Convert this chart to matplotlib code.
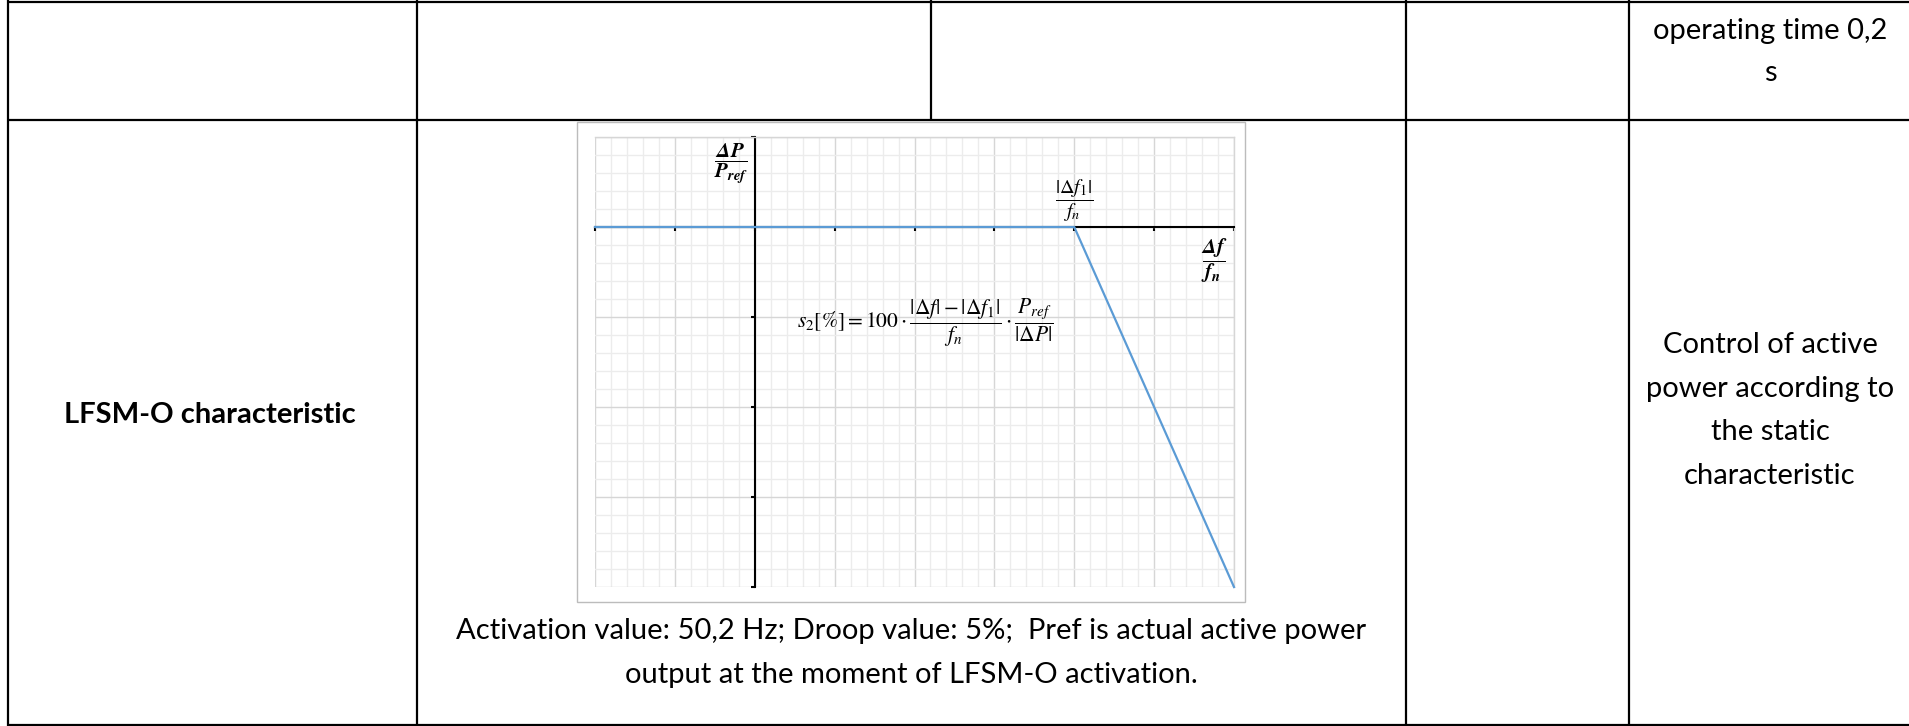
import numpy as np
import matplotlib
matplotlib.use("Agg")
import matplotlib.pyplot as plt
from matplotlib.patches import Rectangle

plt.rcParams['font.family'] = ['Lato', 'DejaVu Sans']
plt.rcParams['mathtext.fontset'] = 'stix'

# LFSM-O static characteristic: dP/Pref against df/fn (chart units)
curve_x = [-2, 4, 6]
curve_y = [0, 0, -4]
x_range = (-2, 6)
y_range = (-4, 1)

# table texts
top_right_lines = ["operating time 0,2", "s"]
row_title = "LFSM-O characteristic"
right_lines = ["Control of active", "power according to", "the static", "characteristic"]
caption_lines = ["Activation value: 50,2 Hz; Droop value: 5%;  Pref is actual active power",
                 "output at the moment of LFSM-O activation."]
ylabel_txt = r'$\dfrac{\mathbfit{\Delta P}}{\mathbfit{P}_{\mathbfit{ref}}}$'
knee_txt = r'$\dfrac{|\Delta f_1|}{f_n}$'
xlabel_txt = r'$\dfrac{\mathbfit{\Delta f}}{\mathbfit{f}_{\mathbfit{n}}}$'
droop_txt = r'$s_2[\%] = 100\cdot\dfrac{|\Delta f| - |\Delta f_1|}{f_n}\cdot\dfrac{P_{ref}}{|\Delta P|}$'

W, H = 1909, 726
fig = plt.figure(figsize=(W / 100, H / 100), dpi=100)

# page layer in pixel coordinates for the table
page = fig.add_axes([0, 0, 1, 1])
page.set_xlim(0, W)
page.set_ylim(H, 0)
page.axis('off')

lw_tbl = 1.6
for y in [1.5, 120, 724.5]:
    page.plot([8, W], [y, y], color='black', lw=lw_tbl, solid_capstyle='butt')
for x in [8, 417, 1406, 1629]:
    page.plot([x, x], [0, H], color='black', lw=lw_tbl, solid_capstyle='butt')
page.plot([931, 931], [0, 120], color='black', lw=lw_tbl, solid_capstyle='butt')

# frame of the embedded chart picture
page.add_patch(Rectangle((577, 121.5), 668, 480.5, facecolor='white',
                         edgecolor='#bcbcbc', lw=1.0))

fs = 21
for i, t in enumerate(top_right_lines):
    page.text(1770, 39 + 42 * i, t, ha='center', va='baseline', fontsize=fs)
page.text(210, 423, row_title, ha='center', va='baseline', fontsize=fs, fontweight='bold')
for i, t in enumerate(right_lines):
    page.text(1770, 353 + 43.5 * i, t, ha='center', va='baseline', fontsize=fs)
for i, t in enumerate(caption_lines):
    page.text(911, 639 + 44 * i, t, ha='center', va='baseline', fontsize=fs)

# the chart itself
left, right, top, bottom = 595, 1234, 137, 587
ax = fig.add_axes([left / W, 1 - bottom / H, (right - left) / W, (bottom - top) / H])
ax.set_xlim(*x_range)
ax.set_ylim(*y_range)
ax.set_xticks(np.arange(x_range[0], x_range[1] + 1))
ax.set_yticks(np.arange(y_range[0], y_range[1] + 1))
ax.set_xticks(np.arange(x_range[0], x_range[1] + 0.01, 0.2), minor=True)
ax.set_yticks(np.arange(y_range[0], y_range[1] + 0.01, 0.2), minor=True)
ax.grid(which='major', color='#d6d6d6', lw=1.0, zorder=0)
ax.grid(which='minor', color='#ececec', lw=1.0, zorder=0)
ax.set_axisbelow(True)

for s in ['top', 'right']:
    ax.spines[s].set_color('#d6d6d6')
    ax.spines[s].set_linewidth(1.0)
for s in ['bottom', 'left']:
    ax.spines[s].set_position(('data', 0))
    ax.spines[s].set_color('black')
    ax.spines[s].set_linewidth(1.5)
ax.tick_params(which='major', direction='out', length=3, width=1.5, color='black',
               labelbottom=False, labelleft=False)
ax.tick_params(which='minor', length=0)

ax.plot(curve_x, curve_y, color='#5B9BD5', lw=1.6, zorder=4, clip_on=False)

ax.text(-0.29, 0.70, ylabel_txt, ha='center', va='center', fontsize=15)
ax.text(curve_x[1], 0.29, knee_txt, ha='center', va='center', fontsize=14.5)
ax.text(5.76, -0.37, xlabel_txt, ha='center', va='center', fontsize=15)
ax.text(2.14, -1.06, droop_txt, ha='center', va='center', fontsize=15.5)

fig.savefig("out.png", dpi=100)
